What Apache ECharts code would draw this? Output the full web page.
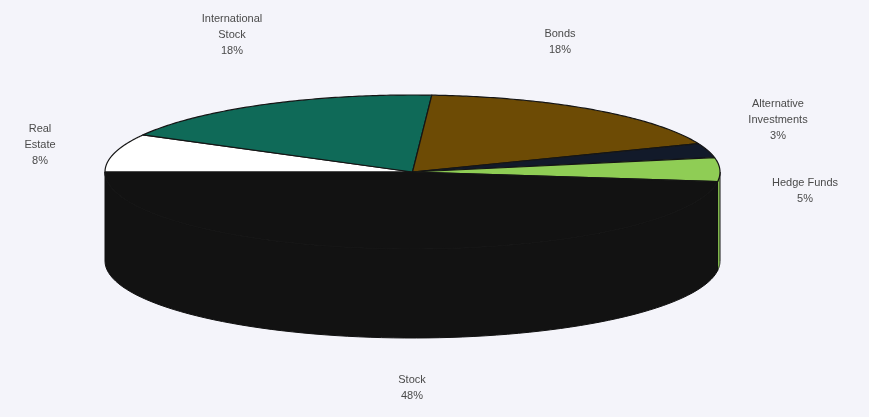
<!DOCTYPE html>
<html>
<head>
<meta charset="utf-8">
<script src="https://cdn.jsdelivr.net/npm/echarts@6/dist/echarts.min.js"></script>
<style>
html,body{margin:0;padding:0;background:#f4f4fa;}
#chart{width:869px;height:417px;}
</style>
</head>
<body>
<div id="chart"></div>
<script>
// ---- data ----
const categories = ['Real Estate', 'International Stock', 'Bonds', 'Alternative Investments', 'Hedge Funds', 'Stock'];
const labelNames = ['Real\nEstate', 'International\nStock', 'Bonds', 'Alternative\nInvestments', 'Hedge Funds', 'Stock'];
const values = [8, 18, 18, 3, 5, 48];

// ---- styles / layout ----
const sliceColors = ['#ffffff', '#0f6a58', '#6d4b05', '#121a2a', '#8fcd55', '#121212'];
const labelPos = [[40, 145], [232, 35], [560, 42], [778, 120], [805, 191], [412, 388]];
const CX = 412.5, CY = 172, RX = 307.5, RY = 77, DEPTH = 89, START = 180;

const total = values.reduce((a, b) => a + b, 0);
function ell(deg, dy) {
  const r = deg * Math.PI / 180;
  return [CX + RX * Math.cos(r), CY - RY * Math.sin(r) + (dy || 0)];
}
function arc(a, b, dy, n) {
  const pts = [];
  for (let k = 0; k <= n; k++) pts.push(ell(a + (b - a) * k / n, dy));
  return pts;
}

const chart = echarts.init(document.getElementById('chart'));
chart.setOption({
  backgroundColor: '#f4f4fa',
  animation: false,
  series: [{
    type: 'custom',
    coordinateSystem: 'none',
    data: values.map((v, i) => ({ name: categories[i], value: v })),
    renderItem: function (params, api) {
      const i = params.dataIndex;
      let start = START;
      for (let j = 0; j < i; j++) start -= values[j] / total * 360;
      const end = start - api.value(0) / total * 360;
      const children = [];
      // side face (front visible part)
      const a = Math.min(start, 0), b = Math.max(end, -180);
      if (a > b) {
        const top = arc(a, b, 0, 80);
        const bot = arc(b, a, DEPTH, 80);
        children.push({
          type: 'polygon',
          shape: { points: top.concat(bot) },
          style: { fill: sliceColors[i], stroke: '#111', lineWidth: 1 },
          z2: 1
        });
      }
      // top face
      const pts = [[CX, CY]].concat(arc(start, end, 0, 100));
      children.push({
        type: 'polygon',
        shape: { points: pts },
        style: { fill: sliceColors[i], stroke: '#151515', lineWidth: 1.2, lineJoin: 'round' },
        z2: 10 + i
      });
      // label
      children.push({
        type: 'text',
        style: {
          text: labelNames[i] + '\n' + api.value(0) + '%',
          x: labelPos[i][0], y: labelPos[i][1],
          align: 'center', verticalAlign: 'middle',
          fill: '#4a4a4a',
          font: '11px "Liberation Sans", Arial, sans-serif',
          lineHeight: 16
        },
        z2: 30
      });
      return { type: 'group', children: children };
    }
  }]
});
</script>
</body>
</html>
